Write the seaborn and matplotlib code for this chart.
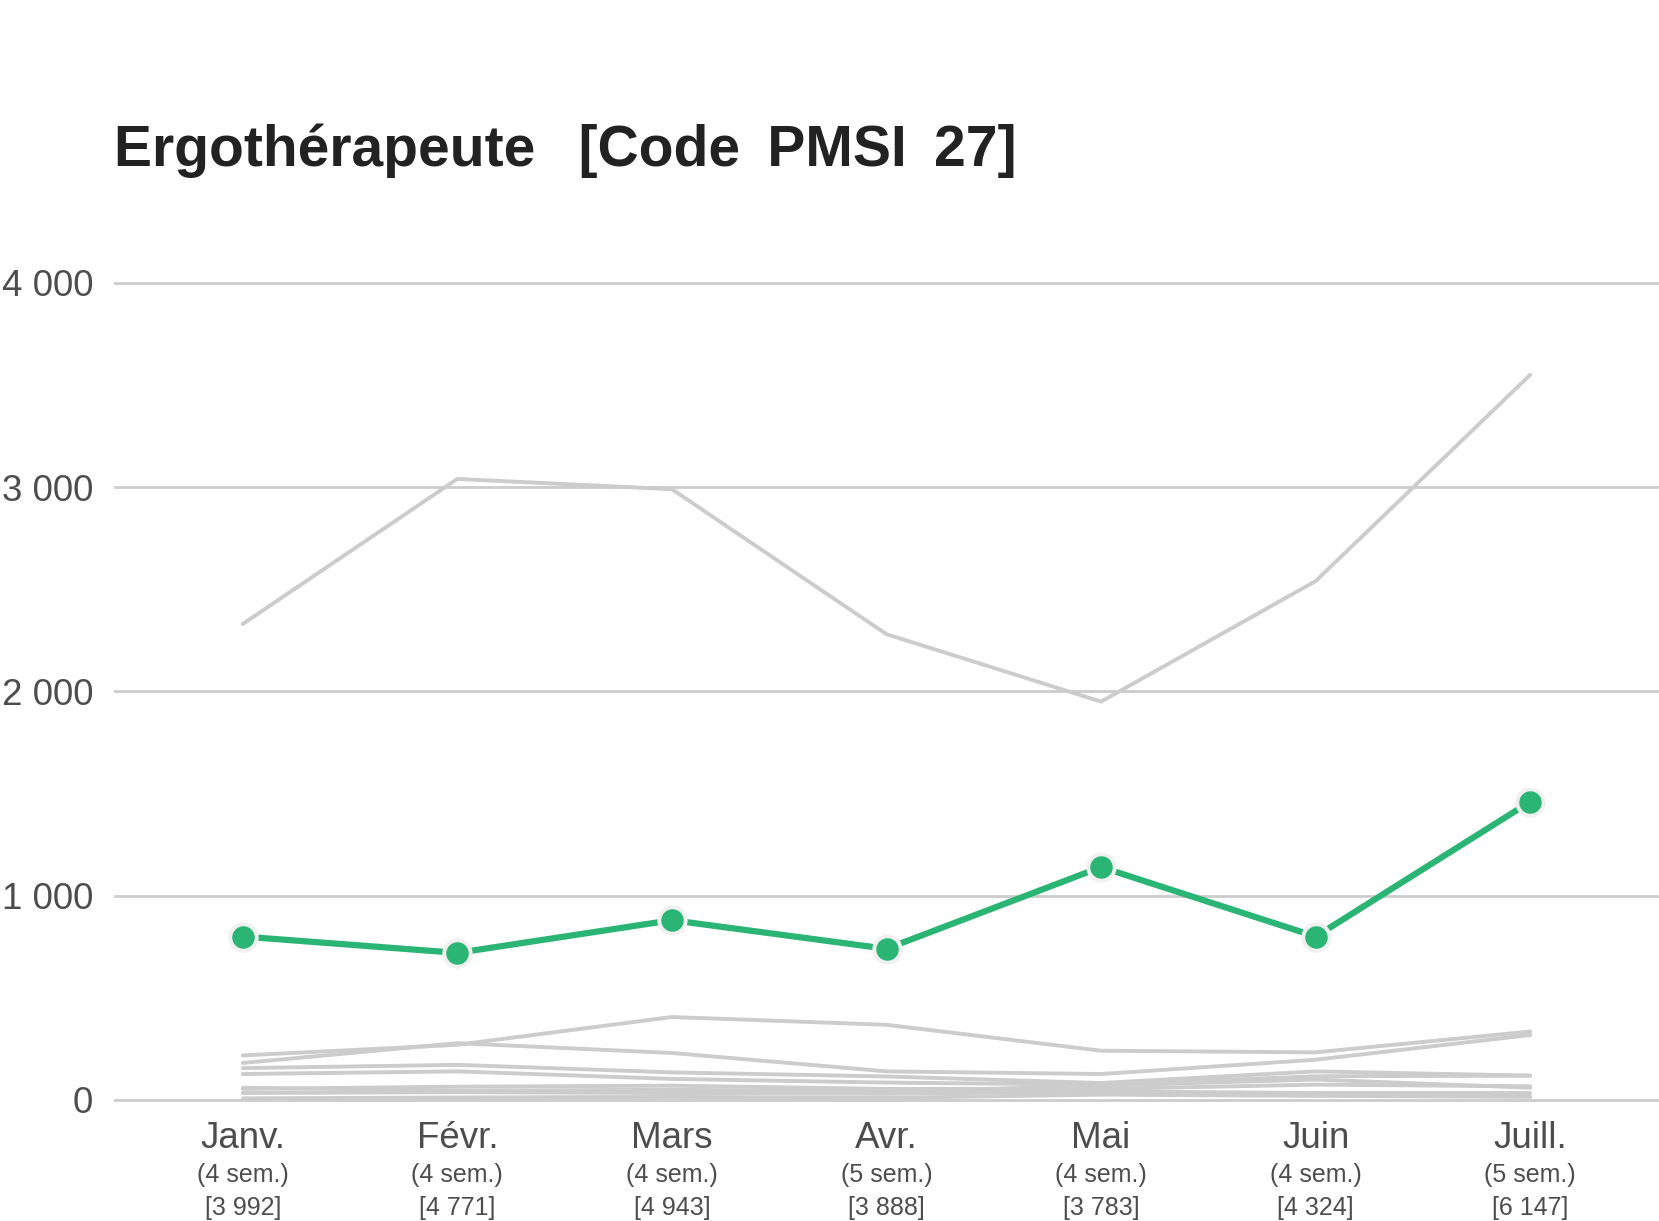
import numpy as np
import pandas as pd
import matplotlib
matplotlib.use("Agg")
import matplotlib.pyplot as plt
import matplotlib.transforms as mtransforms
import seaborn as sns

# ── Data ───────────────────────────────────────────────────────────────────
months    = ["Janv.", "Févr.", "Mars", "Avr.", "Mai", "Juin", "Juill."]
weeks     = ["(4 sem.)", "(4 sem.)", "(4 sem.)", "(5 sem.)", "(4 sem.)", "(4 sem.)", "(5 sem.)"]
totals    = ["[3 992]", "[4 771]", "[4 943]", "[3 888]", "[3 783]", "[4 324]", "[6 147]"]

ergo      = [800, 720, 880, 740, 1140, 800, 1460]

other_top = [2330, 3040, 2990, 2280, 1950, 2540, 3550]
other_1   = [218, 270, 406, 368, 241, 233, 335]
other_2   = [181, 278, 230, 140, 127, 197, 318]
other_3   = [156, 172, 135, 115, 83, 140, 119]
other_4   = [127, 140, 103, 85, 75, 116, 119]
other_5   = [54, 65, 70, 54, 54, 75, 67]
other_6   = [34, 38, 34, 30, 42, 34, 34]
other_7   = [8, 12, 15, 10, 26, 20, 15]
other_8   = [60, 45, 50, 40, 70, 100, 60]

others = [other_top, other_1, other_2, other_3, other_4,
          other_5, other_6, other_7, other_8]

yticks = [0, 1000, 2000, 3000, 4000]
ytick_labels = ["0", "1 000", "2 000", "3 000", "4 000"]

# ── Style ──────────────────────────────────────────────────────────────────
sns.set_theme(style="white")
plt.rcParams["font.family"] = ["Liberation Sans", "DejaVu Sans"]

GREEN = "#2bb574"
GREY  = "#cccccc"
TEXT  = "#4d4d4d"

W, H = 1659, 1221
fig = plt.figure(figsize=(W / 100, H / 100), dpi=100)
ax = fig.add_axes([114 / W, 0.0824, 1 - 114 / W, 0.7194])

x = np.arange(len(months))
long = pd.DataFrame({
    "x": np.tile(x, len(others)),
    "value": np.concatenate(others),
    "series": np.repeat(np.arange(len(others)), len(months)),
})

sns.lineplot(data=long, x="x", y="value", units="series", estimator=None,
             color=GREY, linewidth=2.8, ax=ax, legend=False)
sns.lineplot(x=x, y=ergo, color=GREEN, linewidth=4.5, marker="o",
             markersize=19, markeredgecolor="#f0f0f0", markeredgewidth=2.8,
             ax=ax, legend=False)

ax.set_xlim(-0.6, 6.6)
ax.set_ylim(-100, 4200)
ax.set_yticks(yticks)
ax.set_yticklabels(ytick_labels, fontsize=26.5, color=TEXT)
ax.tick_params(axis="y", length=0, pad=15)
ax.set_xticks([])
ax.set_xlabel("")
ax.set_ylabel("")
for s in ax.spines.values():
    s.set_visible(False)
ax.yaxis.grid(True, color=GREY, linewidth=2)
ax.set_axisbelow(True)

# month labels under the axis
trans = mtransforms.blended_transform_factory(ax.transData, fig.transFigure)
for i in range(len(months)):
    ax.text(i, 1 - 1139 / H, months[i], transform=trans, ha="center",
            va="center", fontsize=26.5, color=TEXT)
    ax.text(i, 1 - 1175 / H, weeks[i], transform=trans, ha="center",
            va="center", fontsize=18, color=TEXT)
    ax.text(i, 1 - 1208 / H, totals[i], transform=trans, ha="center",
            va="center", fontsize=18, color=TEXT)

fig.text(114 / W, 1 - 166 / H, "Ergothérapeute  \u2009[Code \u2009PMSI \u200927]",
         fontweight="bold", fontsize=41, color="#222222",
         ha="left", va="baseline")

fig.savefig("out.png", dpi=100)
